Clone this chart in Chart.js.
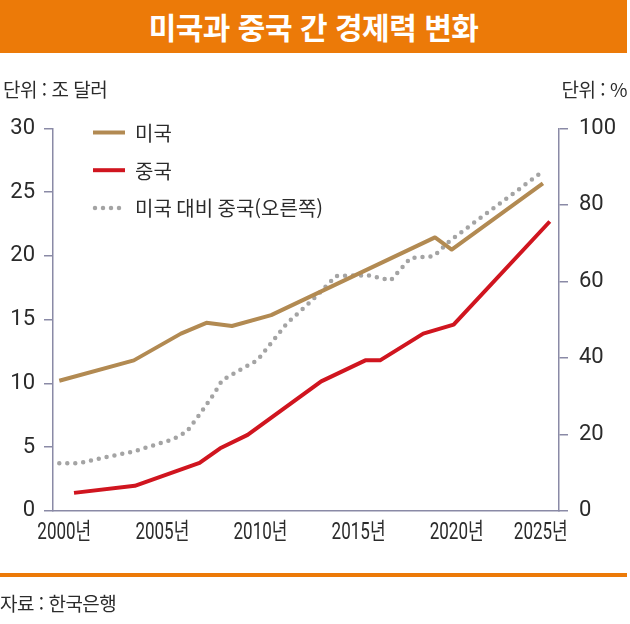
<!DOCTYPE html>
<html lang="ko">
<head>
<meta charset="utf-8">
<title>미국과 중국 간 경제력 변화</title>
<script src="https://cdn.jsdelivr.net/npm/chart.js@4.4.1/dist/chart.umd.min.js"></script>
<style>
    html, body {
        margin: 0;
        padding: 0;
        background: #fff;
    }
    body {
        position: relative;
        width: 630px;
        height: 624px;
        overflow: hidden;
        font-family: 'Noto Sans CJK KR', sans-serif;
        color: #2b2b2b;
    }
    #chartBox {
        position: absolute;
        left: 0;
        top: 0;
        width: 630px;
        height: 624px;
    }
    .title-bar {
        position: absolute;
        left: 0;
        top: 0;
        width: 627px;
        height: 53px;
        background: #ec7a08;
        color: #fff;
        font-size: 30px;
        font-weight: 700;
        line-height: 53px;
        text-align: center;
        letter-spacing: -0.5px;
    }
    .unit {
        position: absolute;
        top: 76px;
        font-size: 19px;
        line-height: 26px;
        letter-spacing: -0.5px;
    }
    .unit.left { left: 3px; }
    .unit.right { right: 3px; }
    .footer-line {
        position: absolute;
        left: 0;
        top: 573px;
        width: 627px;
        height: 4px;
        background: #ec7a08;
    }
    .source {
        position: absolute;
        left: 0;
        top: 590px;
        font-size: 19px;
        line-height: 26px;
        letter-spacing: -0.5px;
    }
</style>
</head>
<body>
<div id="chartBox"><canvas id="gdpChart" width="630" height="624"></canvas></div>
<div class="title-bar">미국과 중국 간 경제력 변화</div>
<div class="unit left">단위 : 조 달러</div>
<div class="unit right">단위 : %</div>
<div class="footer-line"></div>
<div class="source">자료 : 한국은행</div>

<script>
// Values (x = year, y = value)
const seriesNames = ['미국', '중국', '미국 대비 중국(오른쪽)'];

const usYears = [2000.0, 2003.8, 2006.2, 2007.5, 2008.8, 2010.8, 2019.15, 2020.0, 2024.65];
const usGdp = [10.2, 11.8, 13.9, 14.75, 14.5, 15.35, 21.45, 20.5, 25.7];

const cnYears = [2000.75, 2003.85, 2007.15, 2008.2, 2009.6, 2013.35, 2015.6, 2016.35, 2018.55, 2020.1, 2025.0];
const cnGdp = [1.4, 1.95, 3.75, 4.9, 5.95, 10.15, 11.8, 11.8, 13.9, 14.6, 22.7];

const ratioYears = [2000.0, 2001.0, 2002.1, 2003.8, 2005.8, 2006.5, 2007.2, 2007.9, 2008.3, 2009.2,
    2010.1, 2011.6, 2012.9, 2014.1, 2015.7, 2016.9, 2017.9, 2019.1, 2019.9, 2024.6];
const ratioPct = [12.4, 12.4, 13.7, 15.5, 18.7, 20.7, 25.5, 30.7, 34.1, 36.8,
    39.4, 49.0, 55.1, 61.4, 61.6, 60.3, 66.1, 66.6, 70.6, 88.6];

// Tick labels
const yearTicks = [2000, 2005, 2010, 2015, 2020, 2025];
const leftTicks = [0, 5, 10, 15, 20, 25, 30];
const rightTicks = [0, 20, 40, 60, 80, 100];

const axisColor = '#8a8aa6';
const textColor = '#2b2b2b';
const numFont = "Roboto, 'Noto Sans CJK KR', sans-serif";

function toPoints(xs, ys) {
    return xs.map((x, i) => ({ x: x, y: ys[i] }));
}

// x labels: condensed, with the last one pulled left like the original
const yearLabels = {
    id: 'yearLabels',
    afterDraw(chart) {
        const ctx = chart.ctx;
        const xs = chart.scales.x;
        ctx.save();
        ctx.fillStyle = textColor;
        ctx.font = '23px ' + numFont;
        ctx.textAlign = 'center';
        ctx.textBaseline = 'middle';
        yearTicks.forEach((yr, i) => {
            const px = xs.getPixelForValue(yr);
            const shift = i === yearTicks.length - 1 ? -9 : 5;
            ctx.save();
            ctx.translate(px + shift, chart.chartArea.bottom + 23);
            ctx.scale(0.74, 1);
            ctx.fillText(yr + '년', 0, 0);
            ctx.restore();
        });
        ctx.restore();
    }
};

// Legend stacked inside the plot, top-left
const innerLegend = {
    id: 'innerLegend',
    afterDatasetsDraw(chart) {
        const ctx = chart.ctx;
        const area = chart.chartArea;
        ctx.save();
        chart.data.datasets.forEach((ds, i) => {
            const y = area.top + 4 + i * 37.7;
            const x0 = area.left + 40;
            ctx.beginPath();
            ctx.strokeStyle = ds.borderColor;
            ctx.lineWidth = ds.borderWidth;
            ctx.lineCap = ds.borderCapStyle || 'butt';
            ctx.setLineDash(ds.borderDash || []);
            ctx.moveTo(x0 + (ds.borderDash ? 2 : 0), y);
            ctx.lineTo(x0 + 32, y);
            ctx.stroke();
            ctx.setLineDash([]);
            ctx.fillStyle = textColor;
            ctx.font = "20px 'Noto Sans CJK KR', sans-serif";
            ctx.textAlign = 'left';
            ctx.textBaseline = 'middle';
            ctx.fillText(ds.label, x0 + 42, y + 1);
        });
        ctx.restore();
    }
};

const ctx = document.getElementById('gdpChart').getContext('2d');
new Chart(ctx, {
    type: 'line',
    data: {
        datasets: [
            {
                label: seriesNames[0],
                data: toPoints(usYears, usGdp),
                borderColor: '#b28a52',
                borderWidth: 4,
                borderJoinStyle: 'round',
                pointRadius: 0,
                tension: 0,
                yAxisID: 'y'
            },
            {
                label: seriesNames[1],
                data: toPoints(cnYears, cnGdp),
                borderColor: '#d0151f',
                borderWidth: 4,
                borderJoinStyle: 'round',
                pointRadius: 0,
                tension: 0,
                yAxisID: 'y'
            },
            {
                label: seriesNames[2],
                data: toPoints(ratioYears, ratioPct),
                borderColor: '#a4a4a4',
                borderWidth: 4.5,
                borderDash: [0, 8],
                borderCapStyle: 'round',
                pointRadius: 0,
                tension: 0,
                yAxisID: 'y2'
            }
        ]
    },
    options: {
        responsive: false,
        animation: false,
        events: [],
        layout: {
            padding: { left: 0, right: 0, top: 128.5, bottom: 113.3 }
        },
        plugins: {
            legend: { display: false },
            tooltip: { enabled: false }
        },
        scales: {
            x: {
                type: 'linear',
                min: 1999.68,
                max: 2025.47,
                grid: { display: false },
                border: { display: true, color: axisColor, width: 1.5 },
                ticks: { display: false },
                afterFit: (s) => { s.height = 0; }
            },
            y: {
                position: 'left',
                min: leftTicks[0],
                max: leftTicks[leftTicks.length - 1],
                afterBuildTicks: (s) => { s.ticks = leftTicks.map(v => ({ value: v })); },
                grid: {
                    drawOnChartArea: false,
                    drawTicks: true,
                    tickLength: 9,
                    color: axisColor,
                    lineWidth: 1.5
                },
                border: { display: true, color: axisColor, width: 1.5 },
                ticks: {
                    color: textColor,
                    padding: 9,
                    font: { family: numFont, size: 22 }
                },
                afterFit: (s) => { s.width = 53; }
            },
            y2: {
                position: 'right',
                min: rightTicks[0],
                max: rightTicks[rightTicks.length - 1],
                afterBuildTicks: (s) => { s.ticks = rightTicks.map(v => ({ value: v })); },
                grid: {
                    drawOnChartArea: false,
                    drawTicks: true,
                    tickLength: 9,
                    color: axisColor,
                    lineWidth: 1.5
                },
                border: { display: true, color: axisColor, width: 1.5 },
                ticks: {
                    color: textColor,
                    padding: 11,
                    font: { family: numFont, size: 22 }
                },
                afterFit: (s) => { s.width = 71; }
            }
        }
    },
    plugins: [yearLabels, innerLegend]
});
</script>
</body>
</html>
